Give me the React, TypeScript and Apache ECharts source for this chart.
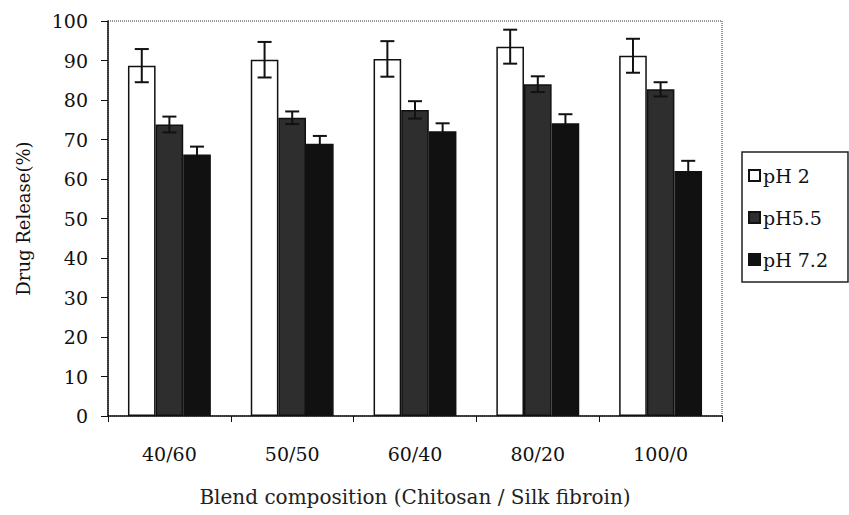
import React, { useEffect, useRef } from "react";
import * as echarts from "echarts";

const categories = ["40/60", "50/50", "60/40", "80/20", "100/0"];
const seriesNames = ["pH 2", "pH5.5", "pH 7.2"];
const ph2 = [88.7, 90.2, 90.4, 93.5, 91.2];
const ph2Err = [4.2, 4.5, 4.5, 4.3, 4.3];
const ph55 = [73.8, 75.5, 77.5, 84.0, 82.7];
const ph55Err = [2.0, 1.6, 2.2, 2.0, 1.8];
const ph72 = [66.2, 68.9, 72.1, 74.1, 62.0];
const ph72Err = [2.0, 2.0, 2.0, 2.3, 2.6];
const yTicks = [0, 10, 20, 30, 40, 50, 60, 70, 80, 90, 100];

const FONT = "DejaVu Serif";
const fills = ["#ffffff", "#2e2e2e", "#111111"];
const BAR_FRAC = 0.225;

export default function App() {
  const ref = useRef<HTMLDivElement>(null);
  useEffect(() => {
    if (!ref.current) return;
    const chart = echarts.init(ref.current, null, { renderer: "svg" });
    const values = [ph2, ph55, ph72];
    const errs = [ph2Err, ph55Err, ph72Err];

    const barSeries = values.map((vals, i) => ({
      type: "bar",
      name: seriesNames[i],
      data: vals,
      barWidth: BAR_FRAC * 100 + "%",
      barGap: "0%",
      itemStyle: { color: fills[i], borderColor: "#111", borderWidth: 1.5 },
      z: 2,
    }));

    const errSeries = values.map((vals, i) => ({
      type: "custom",
      name: "err" + i,
      data: vals.map((v, k) => [k, v - errs[i][k], v + errs[i][k]]),
      z: 5,
      silent: true,
      renderItem: (params: any, api: any) => {
        const idx = api.value(0);
        const lo = api.coord([idx, api.value(1)]);
        const hi = api.coord([idx, api.value(2)]);
        const band = api.size([1, 0])[0];
        const bw = band * BAR_FRAC;
        const x = lo[0] + (i - 1) * bw;
        const cap = 7;
        const style = { stroke: "#111", lineWidth: 2 };
        return {
          type: "group",
          children: [
            { type: "line", shape: { x1: x, y1: lo[1], x2: x, y2: hi[1] }, style },
            { type: "line", shape: { x1: x - cap, y1: lo[1], x2: x + cap, y2: lo[1] }, style },
            { type: "line", shape: { x1: x - cap, y1: hi[1], x2: x + cap, y2: hi[1] }, style },
          ],
        };
      },
    }));

    chart.setOption({
      animation: false,
      backgroundColor: "#ffffff",
      textStyle: { fontFamily: FONT },
      grid: {
        left: 108,
        right: 127,
        top: 21,
        bottom: 99,
        show: true,
        borderColor: "#333",
        borderWidth: 1,
        borderType: "dotted",
        backgroundColor: "transparent",
      },
      legend: {
        orient: "vertical",
        left: 742,
        top: 152,
        data: seriesNames,
        icon: "rect",
        itemWidth: 11,
        itemHeight: 11,
        itemGap: 23,
        padding: [14, 20, 13, 6],
        borderColor: "#222",
        borderWidth: 1.5,
        textStyle: { fontFamily: FONT, fontSize: 19, color: "#111", padding: [0, 0, 0, -2] },
      },
      xAxis: {
        type: "category",
        data: categories,
        name: "Blend composition (Chitosan / Silk fibroin)",
        nameLocation: "middle",
        nameGap: 71,
        nameTextStyle: { fontFamily: FONT, fontSize: 20, color: "#222" },
        axisLine: { lineStyle: { color: "#111", width: 1.5 } },
        axisTick: { show: true, length: 6, lineStyle: { color: "#111" } },
        axisLabel: { fontFamily: FONT, fontSize: 19, color: "#111", margin: 28 },
      },
      yAxis: {
        type: "value",
        min: yTicks[0],
        max: yTicks[yTicks.length - 1],
        interval: yTicks[1] - yTicks[0],
        name: "Drug Release(%)",
        nameLocation: "middle",
        nameGap: 76,
        nameTextStyle: { fontFamily: FONT, fontSize: 18, color: "#111" },
        axisLine: { show: true, lineStyle: { color: "#111", width: 1.5 } },
        axisTick: { show: true, length: 7, lineStyle: { color: "#111" } },
        axisLabel: { fontFamily: FONT, fontSize: 19, color: "#111", margin: 20 },
        splitLine: { show: false },
      },
      series: [...barSeries, ...errSeries],
    });
    return () => chart.dispose();
  }, []);
  return (
    <div
      ref={ref}
      style={{ position: "fixed", left: 0, top: 0, width: 849, height: 515 }}
    />
  );
}
